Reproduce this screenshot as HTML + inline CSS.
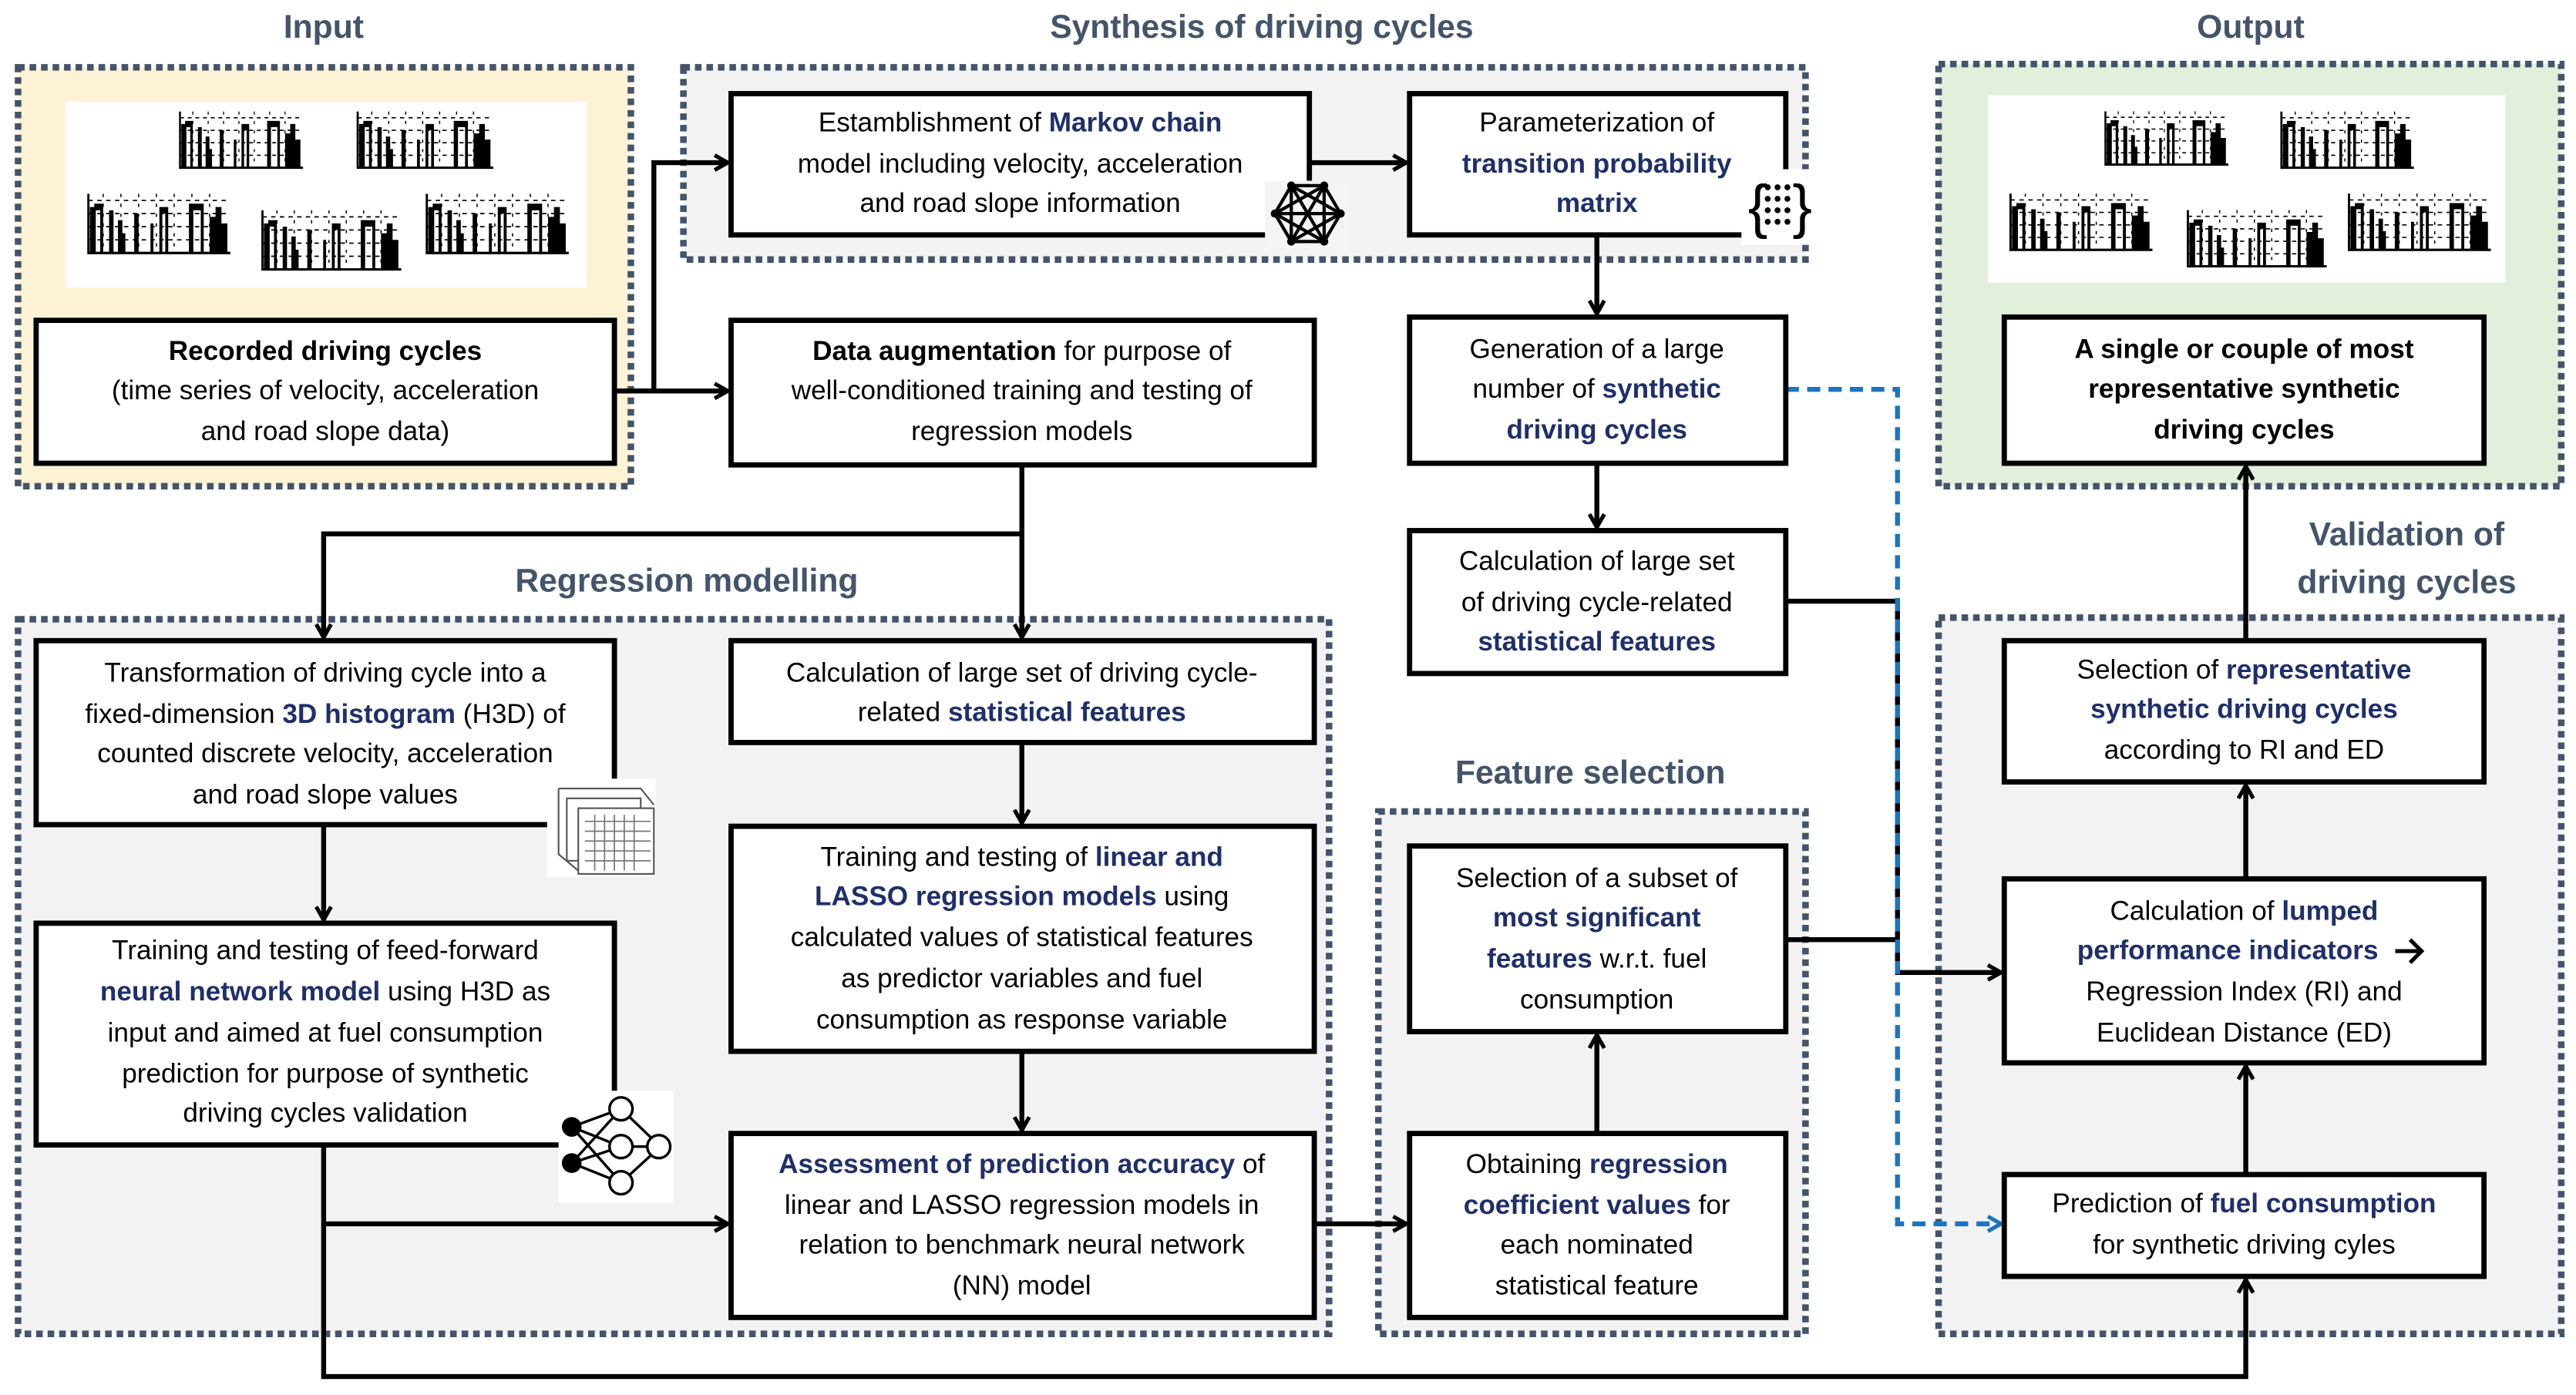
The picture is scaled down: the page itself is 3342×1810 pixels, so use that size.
<!DOCTYPE html>
<html><head><meta charset="utf-8"><style>
html,body{margin:0;padding:0;background:#fff}
svg{display:block}
text{font-family:"Liberation Sans",sans-serif;font-size:16.5px;fill:#000}
.b{font-weight:bold;fill:#1f2f6b}
.k{font-weight:bold;fill:#000}
.t{font-size:20px;fill:#44546a;font-weight:bold}
</style></head><body>
<svg width="3342" height="1810" viewBox="0 0 1568 849.2" xmlns="http://www.w3.org/2000/svg">
<defs>
<marker id="a" viewBox="0 0 12 12" refX="10" refY="6" markerWidth="12" markerHeight="12" orient="auto" markerUnits="userSpaceOnUse">
<path d="M2,1.5 L10,6 L2,10.5" fill="none" stroke="#000" stroke-width="2.4"/></marker>
<marker id="ab" viewBox="0 0 12 12" refX="10" refY="6" markerWidth="12" markerHeight="12" orient="auto" markerUnits="userSpaceOnUse">
<path d="M2,1.5 L10,6 L2,10.5" fill="none" stroke="#1b75c0" stroke-width="2.4"/></marker>
<symbol id="ch" viewBox="0 0 100 40" preserveAspectRatio="none">
<g stroke="#000" stroke-width="0.8" stroke-dasharray="3,3" fill="none"><path d="M2,6H98M2,14H98M2,22H98M2,30H98"/><path d="M12,2V38M24,2V38M36,2V38M48,2V38M60,2V38M72,2V38M84,2V38" stroke-dasharray="2,4"/></g>
<path d="M2,2V38H98" stroke="#000" stroke-width="1.5" fill="none"/>
<path d="M3,38V10H6V8H12V38H10V12H7V38ZM16,38V12H19V38ZM22,38V18H25V26H27V38ZM33,38V14H36V38ZM44,38V20H46V38ZM70,38V8H80V38H78V12H73V38ZM84,38V16H88V10H92V20H96V38Z" fill="#000"/>
<path d="M50,38V10H56V38H54V14H52V38Z" fill="#000"/>
</symbol>
</defs>

<text x="197" y="23" class="t" text-anchor="middle">Input</text>
<text x="768" y="23" class="t" text-anchor="middle">Synthesis of driving cycles</text>
<text x="1370" y="23" class="t" text-anchor="middle">Output</text>
<text x="418" y="360" class="t" text-anchor="middle">Regression modelling</text>
<text x="968" y="477" class="t" text-anchor="middle">Feature selection</text>
<text x="1465" y="332" class="t" text-anchor="middle">Validation of</text>
<text x="1465" y="361" class="t" text-anchor="middle">driving cycles</text>

<g stroke="#44546a" stroke-width="4" stroke-dasharray="4,3">
<rect x="11" y="41" width="373" height="255" fill="#fdf1d6"/>
<rect x="416" y="41" width="683" height="117" fill="#f2f2f2"/>
<rect x="1180" y="39" width="379" height="257" fill="#e2efda"/>
<rect x="11" y="377" width="798" height="435" fill="#f2f2f2"/>
<rect x="839" y="494" width="260" height="318" fill="#f2f2f2"/>
<rect x="1180" y="376" width="379" height="436" fill="#f2f2f2"/>
</g>

<rect x="40" y="62" width="317" height="113" fill="#fff"/>
<rect x="1210" y="58" width="315" height="114" fill="#fff"/>
<use href="#ch" x="108" y="66" width="78" height="38"/>
<use href="#ch" x="216" y="66" width="86" height="38"/>
<use href="#ch" x="52" y="116" width="90" height="40"/>
<use href="#ch" x="158" y="126" width="88" height="40"/>
<use href="#ch" x="258" y="116" width="90" height="40"/>
<use href="#ch" x="1280" y="66" width="78" height="36"/>
<use href="#ch" x="1387" y="66" width="84" height="38"/>
<use href="#ch" x="1222" y="116" width="90" height="38"/>
<use href="#ch" x="1330" y="126" width="88" height="38"/>
<use href="#ch" x="1428" y="116" width="90" height="38"/>

<g stroke="#000" stroke-width="3" fill="none">
<path d="M374,238H443" marker-end="url(#a)"/>
<path d="M378,238H398V99H443" marker-end="url(#a)"/>
<path d="M797,99H856" marker-end="url(#a)"/>
<path d="M972,143V191" marker-end="url(#a)"/>
<path d="M972,282V321" marker-end="url(#a)"/>
<path d="M622,283V388" marker-end="url(#a)"/>
<path d="M622,325H197V388" marker-end="url(#a)"/>
<path d="M622,452V501" marker-end="url(#a)"/>
<path d="M622,640V688" marker-end="url(#a)"/>
<path d="M197,502V560" marker-end="url(#a)"/>
<path d="M197,697V838H1367V779" marker-end="url(#a)"/>
<path d="M197,745H443" marker-end="url(#a)"/>
<path d="M800,745H856" marker-end="url(#a)"/>
<path d="M972,690V630" marker-end="url(#a)"/>
<path d="M1087,366H1155V592H1218" marker-end="url(#a)"/>
<path d="M1087,572H1155"/>
<path d="M1367,715V649" marker-end="url(#a)"/>
<path d="M1367,535V478" marker-end="url(#a)"/>
<path d="M1367,390V284" marker-end="url(#a)"/>
</g>
<path d="M1087,237H1155V745H1218" stroke="#1b75c0" stroke-width="3" fill="none" stroke-dasharray="8,5" marker-end="url(#ab)"/>

<g stroke="#000" stroke-width="3.2" fill="#fff">
<rect x="22" y="195" width="352" height="87"/>
<rect x="445" y="57" width="352" height="86"/>
<rect x="858" y="57" width="229" height="86"/>
<rect x="445" y="195" width="355" height="88"/>
<rect x="858" y="193" width="229" height="89"/>
<rect x="858" y="323" width="229" height="87"/>
<rect x="1220" y="193" width="292" height="89"/>
<rect x="22" y="390" width="352" height="112"/>
<rect x="445" y="390" width="355" height="62"/>
<rect x="22" y="562" width="352" height="135"/>
<rect x="445" y="503" width="355" height="137"/>
<rect x="445" y="690" width="355" height="112"/>
<rect x="858" y="515" width="229" height="113"/>
<rect x="858" y="690" width="229" height="112"/>
<rect x="1220" y="390" width="292" height="86"/>
<rect x="1220" y="535" width="292" height="112"/>
<rect x="1220" y="715" width="292" height="62"/>
</g>

<g>
<rect x="770" y="110" width="52" height="46" fill="#f4f4f4"/>
<g stroke="#000" stroke-width="2" fill="none">
<polygon points="786,113 806,113 816,130 806,147 786,147 776,130"/>
<path d="M786,113L806,147M806,113L786,147M776,130H816M786,113L816,130L786,147M806,113L776,130L806,147M786,113V147M806,113V147"/>
</g>
<g fill="#000"><circle cx="786" cy="113" r="2.5"/><circle cx="806" cy="113" r="2.5"/><circle cx="816" cy="130" r="2.5"/><circle cx="806" cy="147" r="2.5"/><circle cx="786" cy="147" r="2.5"/><circle cx="776" cy="130" r="2.5"/></g>
<rect x="1060" y="103" width="48" height="46" fill="#fff"/>
<text x="1064" y="138" style="font-size:36px">{</text>
<text x="1091" y="138" style="font-size:36px">}</text>
<g fill="#000"><circle cx="1076" cy="114" r="1.8"/><circle cx="1082" cy="114" r="1.8"/><circle cx="1088" cy="114" r="1.8"/><circle cx="1076" cy="121" r="1.8"/><circle cx="1082" cy="121" r="1.8"/><circle cx="1088" cy="121" r="1.8"/><circle cx="1076" cy="128" r="1.8"/><circle cx="1082" cy="128" r="1.8"/><circle cx="1088" cy="128" r="1.8"/><circle cx="1076" cy="135" r="1.8"/><circle cx="1082" cy="135" r="1.8"/><circle cx="1088" cy="135" r="1.8"/></g>
<rect x="333" y="474" width="66" height="60" fill="#fff"/>
<g stroke="#555" stroke-width="1" fill="#fff">
<path d="M340,480L390,480L398,490M340,480V520L352,530"/>
<rect x="345" y="486" width="45" height="38"/>
<rect x="352" y="492" width="46" height="40"/>
</g>
<path d="M356,500H396M356,506H396M356,512H396M356,518H396M356,524H396M362,496V530M368,496V530M374,496V530M380,496V530M386,496V530" stroke="#777" stroke-width="0.8"/>
<rect x="340" y="664" width="70" height="68" fill="#fff"/>
<g stroke="#000" stroke-width="1.6" fill="none">
<path d="M348,686L378,675M348,686L378,698M348,686L378,720M348,708L378,675M348,708L378,698M348,708L378,720M378,675L402,698M378,698L402,698M378,720L402,698"/>
</g>
<circle cx="348" cy="686" r="6" fill="#000"/><circle cx="348" cy="708" r="6" fill="#000"/>
<g fill="#fff" stroke="#000" stroke-width="1.6"><circle cx="378" cy="675" r="7"/><circle cx="378" cy="698" r="7"/><circle cx="378" cy="720" r="7"/><circle cx="401" cy="698" r="7"/></g>
</g>

<g text-anchor="middle">
<text x="198" y="219"><tspan class="k">Recorded driving cycles</tspan></text>
<text x="198" y="243">(time series of velocity, acceleration</text>
<text x="198" y="268">and road slope data)</text>

<text x="621" y="80">Estamblishment of <tspan class="b">Markov chain</tspan></text>
<text x="621" y="105">model including velocity, acceleration</text>
<text x="621" y="129">and road slope information</text>

<text x="972" y="80">Parameterization of</text>
<text x="972" y="105" class="b">transition probability</text>
<text x="972" y="129" class="b">matrix</text>

<text x="622" y="219"><tspan class="k">Data augmentation</tspan> for purpose of</text>
<text x="622" y="243">well-conditioned training and testing of</text>
<text x="622" y="268">regression models</text>

<text x="972" y="218">Generation of a large</text>
<text x="972" y="242">number of <tspan class="b">synthetic</tspan></text>
<text x="972" y="267" class="b">driving cycles</text>

<text x="972" y="347">Calculation of large set</text>
<text x="972" y="372">of driving cycle-related</text>
<text x="972" y="396" class="b">statistical features</text>

<text x="1366" y="218" class="k">A single or couple of most</text>
<text x="1366" y="242" class="k">representative synthetic</text>
<text x="1366" y="267" class="k">driving cycles</text>

<text x="198" y="415">Transformation of driving cycle into a</text>
<text x="198" y="440">fixed-dimension <tspan class="b">3D histogram</tspan> (H3D) of</text>
<text x="198" y="464">counted discrete velocity, acceleration</text>
<text x="198" y="489">and road slope values</text>

<text x="622" y="415">Calculation of large set of driving cycle-</text>
<text x="622" y="439">related <tspan class="b">statistical features</tspan></text>

<text x="198" y="584">Training and testing of feed-forward</text>
<text x="198" y="609"><tspan class="b">neural network model</tspan> using H3D as</text>
<text x="198" y="634">input and aimed at fuel consumption</text>
<text x="198" y="659">prediction for purpose of synthetic</text>
<text x="198" y="683">driving cycles validation</text>

<text x="622" y="527">Training and testing of <tspan class="b">linear and</tspan></text>
<text x="622" y="551"><tspan class="b">LASSO regression models</tspan> using</text>
<text x="622" y="576">calculated values of statistical features</text>
<text x="622" y="601">as predictor variables and fuel</text>
<text x="622" y="626">consumption  as response variable</text>

<text x="622" y="714"><tspan class="b">Assessment of prediction accuracy</tspan> of</text>
<text x="622" y="739">linear and LASSO regression models in</text>
<text x="622" y="763">relation to benchmark  neural network</text>
<text x="622" y="788">(NN) model</text>

<text x="972" y="540">Selection of a subset of</text>
<text x="972" y="564" class="b">most significant</text>
<text x="972" y="589"><tspan class="b">features</tspan> w.r.t. fuel</text>
<text x="972" y="614">consumption</text>

<text x="972" y="714">Obtaining <tspan class="b">regression</tspan></text>
<text x="972" y="739"><tspan class="b">coefficient values</tspan> for</text>
<text x="972" y="763">each nominated</text>
<text x="972" y="788">statistical feature</text>

<text x="1366" y="413">Selection of <tspan class="b">representative</tspan></text>
<text x="1366" y="437" class="b">synthetic driving cycles</text>
<text x="1366" y="462">according to RI and ED</text>

<text x="1366" y="560">Calculation of <tspan class="b">lumped</tspan></text>
<text x="1356" y="584"><tspan class="b">performance indicators</tspan></text>
<path d="M1458,579H1474M1467,572L1474,579L1467,586" stroke="#000" stroke-width="2.4" fill="none"/>
<text x="1366" y="609">Regression Index (RI) and</text>
<text x="1366" y="634">Euclidean Distance (ED)</text>

<text x="1366" y="738">Prediction of <tspan class="b">fuel consumption</tspan></text>
<text x="1366" y="763">for synthetic driving cyles</text>
</g>
</svg>
</body></html>
